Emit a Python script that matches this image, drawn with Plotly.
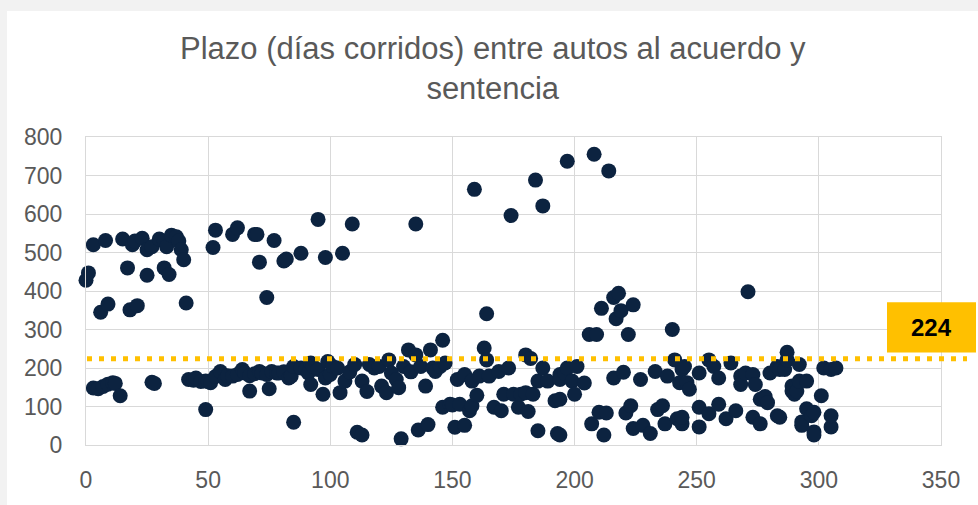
import plotly.graph_objects as go

# ---- data ----
upper_x = [0, 1, 3, 6, 8, 9, 15, 17, 18, 19, 20, 21, 23, 25, 25, 27, 30, 32, 32, 33, 34, 35, 37, 38, 39, 40, 41,
           52, 53, 60, 62, 69, 70, 71, 74, 77, 81, 82, 88, 95, 98, 105, 109]
upper_y = [428, 447, 520, 345, 531, 366, 535, 460, 351, 520, 530, 362, 537, 507, 441, 515, 535, 530, 460, 515, 443, 545, 541, 530, 507, 481, 369,
           513, 558, 547, 564, 547, 547, 475, 383, 531, 478, 483, 498, 586, 487, 498, 574]

mid_x = [135, 159, 164, 174, 184, 187, 197, 206, 208, 209, 211, 214, 216, 217, 218, 219, 222, 224, 240, 271]
mid_y = [574, 664, 341, 596, 688, 621, 737, 287, 755, 287, 355, 712, 383, 328, 394, 349, 287, 364, 300, 398]

lower_pairs = [
    (3, 148), (5, 146), (7, 152), (9, 158), (11, 162), (12, 160), (14, 128), (27, 163), (28, 160),
    (42, 170), (44, 168), (45, 174), (47, 165), (49, 92), (49, 166),
    (50, 165), (51, 162), (53, 178), (55, 191), (57, 170), (58, 180), (60, 179), (62, 183), (64, 196), (65, 187),
    (67, 140), (67, 180), (69, 185), (71, 191), (72, 187), (74, 183), (75, 146), (76, 191), (78, 187), (79, 187),
    (81, 190), (83, 174), (84, 179), (85, 204), (85, 59), (88, 200), (90, 196), (91, 187), (92, 157), (92, 213),
    (93, 204), (95, 196), (97, 132), (98, 174), (99, 217),
    (100, 183), (101, 204), (103, 200), (104, 136), (106, 166), (108, 190), (110, 209), (111, 33), (113, 166),
    (113, 26), (115, 139), (116, 209), (118, 200), (120, 204), (121, 153), (123, 136), (124, 221), (125, 187),
    (127, 170), (128, 149), (129, 16), (130, 204), (132, 247), (133, 190), (135, 234), (136, 39), (137, 204),
    (139, 153), (140, 53), (141, 247), (142, 200), (143, 191), (145, 204), (146, 272), (146, 98), (147, 213),
    (149, 106),
    (151, 46), (150, 104), (152, 170), (153, 106), (155, 183), (155, 51), (157, 89), (158, 166), (158, 102),
    (160, 129), (161, 179), (163, 252), (164, 221), (165, 179), (167, 98), (169, 191), (170, 89), (171, 132),
    (173, 200), (175, 132), (177, 98), (178, 132), (180, 136), (180, 234), (181, 87), (182, 225), (183, 132),
    (185, 37), (185, 166), (187, 200), (189, 166), (192, 115), (193, 30), (194, 183), (194, 170), (194, 119),
    (194, 26), (196, 187), (197, 200), (199, 166), (200, 132), (201, 204), (204, 161),
    (207, 55), (210, 85), (212, 26), (213, 83), (216, 174), (220, 189), (221, 83), (223, 102), (224, 43),
    (227, 170), (228, 51), (231, 30), (233, 191), (234, 92), (236, 102), (237, 55), (238, 179), (241, 221),
    (242, 68), (243, 162), (244, 55), (244, 196), (244, 72), (245, 204), (246, 162), (247, 145),
    (251, 187), (251, 98), (251, 47), (255, 221), (255, 81), (257, 204), (259, 174), (259, 106), (262, 68),
    (264, 213), (266, 89), (268, 179), (268, 157), (270, 187), (273, 183), (273, 72), (274, 157), (276, 119),
    (276, 55), (278, 126), (279, 110), (280, 187), (283, 204), (283, 76), (284, 196), (284, 72), (286, 196),
    (287, 221), (287, 241), (289, 140), (289, 153), (290, 132), (291, 140), (292, 209), (292, 166), (293, 60),
    (293, 51), (295, 166), (295, 94), (297, 76), (298, 34), (298, 26), (298, 85), (301, 128), (302, 200),
    (305, 196), (305, 47), (305, 76), (307, 200),
]
lower_x = [p[0] for p in lower_pairs]
lower_y = [p[1] for p in lower_pairs]

x_vals = upper_x + mid_x + lower_x
y_vals = upper_y + mid_y + lower_y

mean_value = 224
title_text = "Plazo (días corridos) entre autos al acuerdo y<br>sentencia"
x_ticks = [0, 50, 100, 150, 200, 250, 300, 350]
y_ticks = [0, 100, 200, 300, 400, 500, 600, 700, 800]

# ---- geometry (pixels) ----
W, H = 978, 505
L, R, T, B = 86, 941, 137, 450
pw, ph = R - L, B - T


def px_x(p):
    return (p - L) / pw


def px_y(p):
    return (B - p) / ph


FONT = "Liberation Sans, Arial, sans-serif"
GREY_TXT = "#595959"
GRID = "#d9d9d9"
NAVY = "#0c2340"
GOLD = "#ffc000"

fig = go.Figure()
fig.add_trace(go.Scatter(
    x=x_vals, y=y_vals, mode="markers",
    marker=dict(size=15, color=NAVY, line=dict(width=0)),
    cliponaxis=False, showlegend=False, hoverinfo="x+y",
))

shapes = [
    # white chart panel over the grey page
    dict(type="rect", xref="paper", yref="paper", x0=px_x(7), x1=px_x(990), y0=px_y(520), y1=px_y(9),
         fillcolor="white", line=dict(width=0), layer="below"),
    # average line
    dict(type="line", xref="paper", yref="y", x0=px_x(87), x1=px_x(967), y0=mean_value, y1=mean_value,
         line=dict(color=GOLD, width=5, dash="5px,7px"), layer="above"),
    # label box
    dict(type="rect", xref="paper", yref="paper", x0=px_x(887), x1=px_x(976), y0=px_y(356), y1=px_y(305),
         fillcolor=GOLD, line=dict(width=0), layer="above"),
]

annotations = [
    dict(text=title_text, xref="paper", yref="paper", x=px_x(493), y=px_y(67), xanchor="center", yanchor="middle",
         showarrow=False, font=dict(family=FONT, size=31, color=GREY_TXT)),
    dict(text="<b>%d</b>" % mean_value, xref="paper", yref="paper", x=px_x(931.5), y=px_y(330.5),
         xanchor="center", yanchor="middle", showarrow=False, font=dict(family=FONT, size=24, color="black")),
]

fig.update_layout(
    width=W, height=H,
    margin=dict(l=L, r=W - R, t=T, b=H - B, pad=0),
    paper_bgcolor="#f2f2f2", plot_bgcolor="white",
    shapes=shapes, annotations=annotations,
    font=dict(family=FONT, color=GREY_TXT),
    xaxis=dict(range=[0, 350], tickvals=x_ticks, ticktext=[str(v) for v in x_ticks],
               showgrid=True, gridcolor=GRID, gridwidth=1.3, zeroline=False,
               showline=True, linecolor=GRID, linewidth=1.3, mirror=True,
               ticks="outside", ticklen=14, tickcolor="rgba(0,0,0,0)",
               tickfont=dict(size=23, color=GREY_TXT, family=FONT)),
    yaxis=dict(range=[0, 800], tickvals=y_ticks, ticktext=[str(v) for v in y_ticks],
               showgrid=True, gridcolor=GRID, gridwidth=1.3, zeroline=False,
               showline=True, linecolor=GRID, linewidth=1.3, mirror=True,
               ticks="outside", ticklen=18, tickcolor="rgba(0,0,0,0)",
               tickfont=dict(size=23, color=GREY_TXT, family=FONT)),
)

fig.write_html(
    "out.html",
    config={"displayModeBar": False},
    post_script="document.body.style.margin='0';document.body.style.background='#f2f2f2';",
)
